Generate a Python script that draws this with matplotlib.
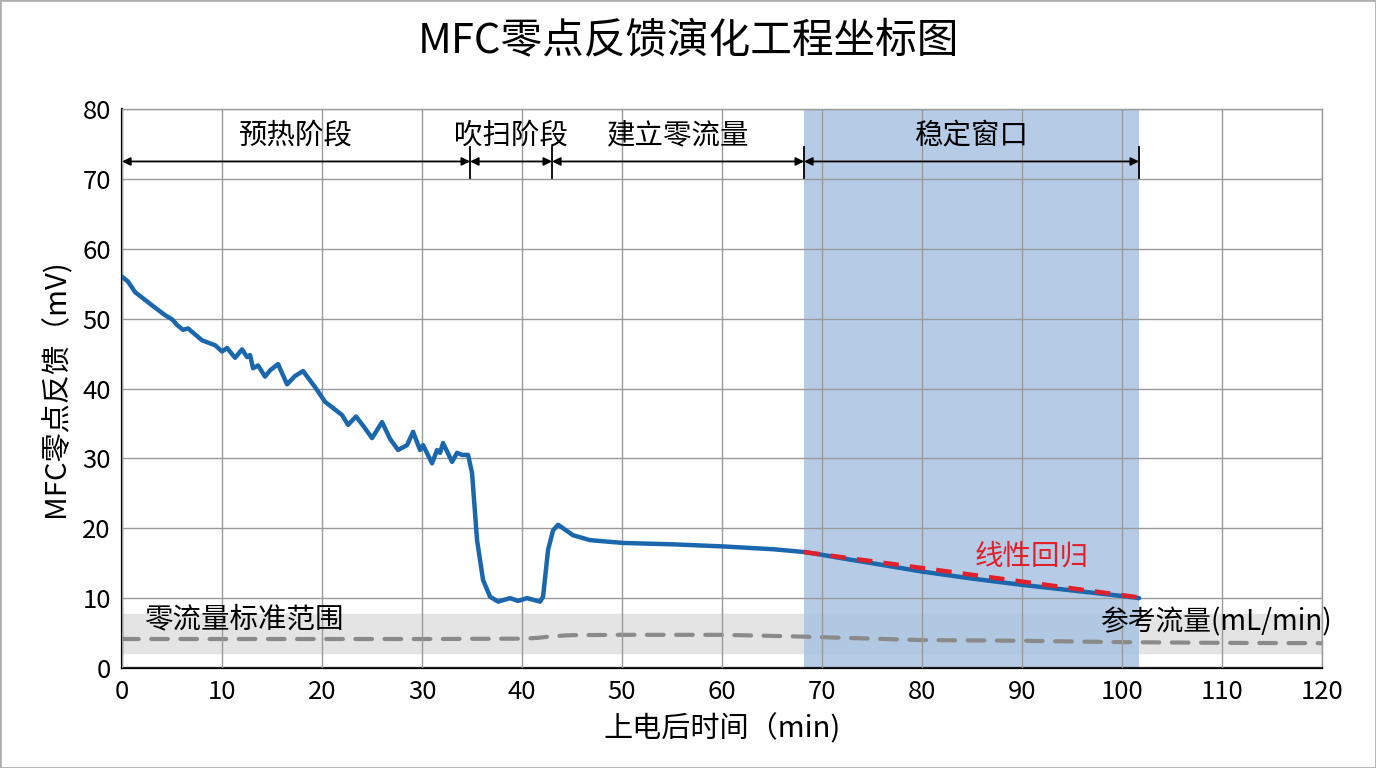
import matplotlib
matplotlib.use('Agg')
import matplotlib.pyplot as plt
from matplotlib.patches import Rectangle

plt.rcParams['font.family'] = ['Noto Sans CJK SC', 'DejaVu Sans']
plt.rcParams['axes.unicode_minus'] = False

# 零点反馈曲线 (min, mV)
t_fb = [0, 0.6, 1.3, 2.2, 3.0, 4.3, 5.0, 5.5, 6.1, 6.6, 8.0, 9.3, 10.0, 10.5, 11.3, 12.0,
        12.5, 12.8, 13.1, 13.6, 14.3, 14.8, 15.6, 16.5, 17.3, 18.1, 19.3, 20.3, 21.2,
        22.0, 22.6, 23.4, 24.2, 25.0, 26.0, 26.8, 27.6, 28.5, 29.1, 29.8, 30.1, 31.0,
        31.5, 31.8, 32.1, 33.0, 33.5, 34.0, 34.6, 35.0, 35.5, 36.1, 36.8, 37.6, 38.8,
        39.6, 40.5, 41.8, 42.1, 42.6, 43.1, 43.6, 45.1, 46.8, 50.1, 55.1, 60.1, 65.1,
        68.2, 70, 72, 75, 80, 85, 90, 95, 100, 101.7]
v_fb = [56.0, 55.3, 53.8, 52.8, 51.9, 50.5, 49.9, 49.1, 48.4, 48.6, 46.9, 46.2, 45.3,
        45.8, 44.4, 45.6, 44.5, 44.8, 42.9, 43.3, 41.7, 42.6, 43.5, 40.6, 41.8, 42.5,
        40.2, 38.1, 37.1, 36.2, 34.8, 36.0, 34.5, 32.9, 35.2, 32.8, 31.2, 31.9, 33.8,
        31.2, 31.9, 29.3, 31.2, 30.8, 32.2, 29.5, 30.8, 30.5, 30.5, 27.9, 18.3, 12.6,
        10.2, 9.5, 10.0, 9.6, 10.0, 9.5, 10.2, 16.9, 19.7, 20.5, 19.0, 18.3, 17.9,
        17.7, 17.4, 17.0, 16.6, 16.2, 15.7, 15.0, 13.8, 12.8, 11.9, 11.1, 10.3, 10.0]

# 参考流量 (mL/min)
t_ref = [0, 10, 20, 30, 40, 41.5, 43, 45, 50, 60, 68, 75, 80, 90, 100, 110, 120]
v_ref = [4.15, 4.15, 4.15, 4.15, 4.2, 4.3, 4.55, 4.7, 4.75, 4.75, 4.5, 4.2, 4.0,
         3.9, 3.7, 3.6, 3.55]

# 线性回归
t_fit = [68.2, 101.7]
v_fit = [16.6, 10.1]

# 阶段划分
phase_edges = [0, 34.8, 43, 68.2, 101.7]
phase_names = ['预热阶段', '吹扫阶段', '建立零流量', '稳定窗口']

band_low, band_high = 2.2, 7.8

fig = plt.figure(figsize=(13.76, 7.68), dpi=100)
ax = fig.add_axes([0.0887, 0.1302, 0.8721, 0.7278])

ax.axhspan(band_low, band_high, color='#e4e4e4', zorder=0)
ax.axvspan(phase_edges[3], phase_edges[4], color='#a9c3e2', alpha=0.85, zorder=0.5, lw=0)

ax.plot(t_ref, v_ref, color='#8a8a8a', lw=3, ls=(0, (4, 3)), dash_capstyle='round', zorder=2)
ax.plot(t_fb, v_fb, color='#1a67ad', lw=3.2, solid_joinstyle='round',
        solid_capstyle='round', zorder=3)
ax.plot(t_fit, v_fit, color='#e0202a', lw=3.2, ls=(0, (3.5, 2.5)), zorder=4)

# 阶段箭头
for i, name in enumerate(phase_names):
    a, b = phase_edges[i], phase_edges[i + 1]
    ax.annotate('', xy=(a, 72.5), xytext=(b, 72.5),
                arrowprops=dict(arrowstyle='<|-|>', color='black', lw=1.3,
                                mutation_scale=12, shrinkA=0, shrinkB=0), zorder=5)
    ax.text((a + b) / 2, 76.2, name, ha='center', va='center', fontsize=20.5, zorder=5)
for e in phase_edges[1:]:
    ax.plot([e, e], [70.2, 74.6], color='black', lw=1.3, zorder=5)

ax.text(2.3, 6.9, '零流量标准范围', ha='left', va='center', fontsize=20.5, zorder=5)
ax.text(85.3, 16.0, '线性回归', ha='left', va='center', fontsize=20.5, color='#e0202a', zorder=5)
ax.text(121, 6.6, '参考流量(mL/min)', ha='right', va='center', fontsize=20, zorder=5,
        clip_on=False)

ax.set_xlim(0, 120)
ax.set_ylim(0, 80)
ax.set_xticks(range(0, 121, 10))
ax.set_yticks(range(0, 81, 10))
ax.tick_params(length=0, labelsize=18.5, pad=8)
ax.grid(True, color='#9a9a9a', lw=1, zorder=1)
ax.set_axisbelow(False)
for s in ['top', 'right']:
    ax.spines[s].set_color('#9a9a9a')
    ax.spines[s].set_linewidth(1)
for s in ['left', 'bottom']:
    ax.spines[s].set_color('black')
    ax.spines[s].set_linewidth(1.6)

ax.set_xlabel('上电后时间（min)', fontsize=21, labelpad=6)
ax.set_ylabel('MFC零点反馈（mV)', fontsize=21, labelpad=8)
fig.suptitle('MFC零点反馈演化工程坐标图', fontsize=30, y=0.972)

fig.patches.append(Rectangle((0, 0), 1, 1, transform=fig.transFigure, fill=False,
                             edgecolor='#b0b0b0', lw=2))

fig.savefig('out.png', dpi=100)
